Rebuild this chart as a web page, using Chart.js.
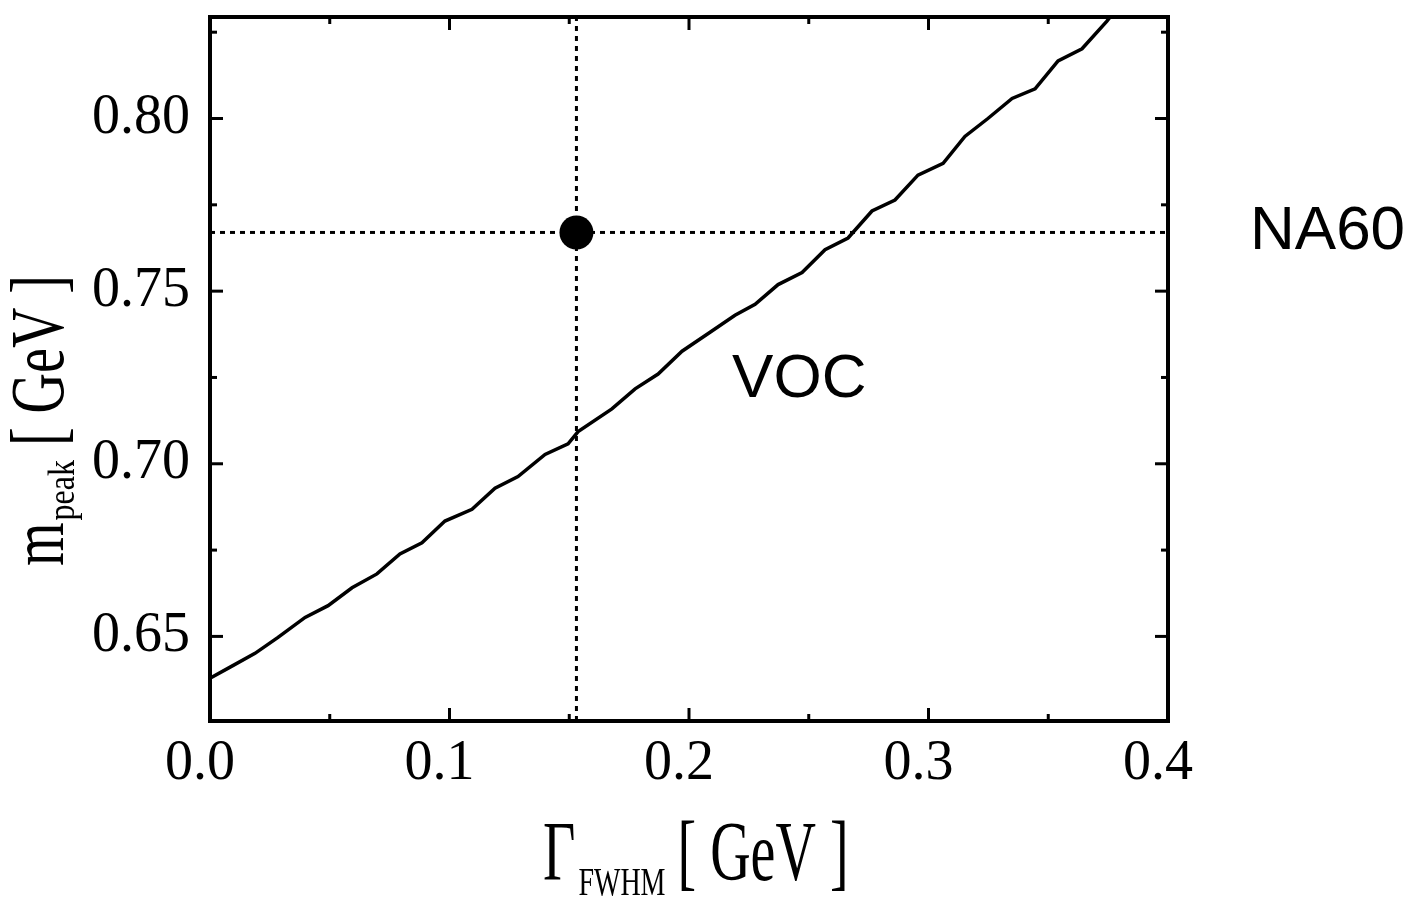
<!DOCTYPE html>
<html>
<head>
<meta charset="utf-8">
<script src="https://cdn.jsdelivr.net/npm/chart.js@4.4.1/dist/chart.umd.min.js"></script>
<style>
  html, body { margin: 0; padding: 0; background: #fff; }
  #wrap { width: 1420px; height: 900px; }
</style>
</head>
<body>
<div id="wrap"><canvas id="peakChart" width="1420" height="900"></canvas></div>
<script>
// VOC curve: peak position vs. full width at half maximum (GeV)
const vocWidth = [0.000, 0.0084, 0.0188, 0.0284, 0.0397, 0.0493, 0.0593, 0.0697, 0.0793, 0.0885,
  0.0981, 0.1094, 0.1190, 0.1286, 0.1399, 0.1495, 0.1537, 0.1678, 0.1775, 0.1871,
  0.1971, 0.2088, 0.2192, 0.2276, 0.2372, 0.2472, 0.2568, 0.2664, 0.2764, 0.2860,
  0.2956, 0.3061, 0.3152, 0.3248, 0.3349, 0.3445, 0.3541, 0.3641, 0.3745, 0.3765];
const vocMass = [0.6379, 0.6411, 0.6451, 0.6497, 0.6555, 0.6589, 0.6641, 0.6681, 0.6739, 0.6771,
  0.6834, 0.6868, 0.6929, 0.6963, 0.7027, 0.7058, 0.7093, 0.7159, 0.7217, 0.7260,
  0.7326, 0.7381, 0.7430, 0.7462, 0.7519, 0.7554, 0.7620, 0.7654, 0.7732, 0.7764,
  0.7836, 0.7870, 0.7948, 0.8000, 0.8058, 0.8086, 0.8167, 0.8202, 0.8282, 0.8300];

// NA60 point
const na60Width = 0.153;
const na60Mass = 0.767;

// axes
const xRange = [0.0, 0.4];
const yRange = [0.6255, 0.8294];
const xTickValues = [0.0, 0.1, 0.2, 0.3, 0.4];
const yTickValues = [0.65, 0.70, 0.75, 0.80];

const serif = '"Liberation Serif", "Times New Roman", serif';
const sans = '"Liberation Sans", Arial, sans-serif';

// text stretched along the glyph height, like the narrow serif titles
function tallText(ctx, text, x, y, size, stretch) {
  ctx.save();
  ctx.font = size + 'px ' + serif;
  ctx.translate(x, y);
  ctx.scale(1, stretch);
  ctx.fillText(text, 0, 0);
  ctx.restore();
  ctx.font = size + 'px ' + serif;
  return ctx.measureText(text).width;
}

// frame box with inward ticks on all four sides
const frameTicks = {
  id: 'frameTicks',
  afterDatasetsDraw(chart) {
    const { ctx, chartArea: a, scales: { x, y } } = chart;
    ctx.save();
    ctx.strokeStyle = '#000';
    ctx.lineWidth = 3;
    const seg = (x1, y1, x2, y2) => {
      ctx.beginPath(); ctx.moveTo(x1, y1); ctx.lineTo(x2, y2); ctx.stroke();
    };
    for (let i = 1; i < 8; i++) {
      const px = x.getPixelForValue(i * 0.05);
      const len = i % 2 === 0 ? 13 : 7;
      seg(px, a.bottom, px, a.bottom - len);
      seg(px, a.top, px, a.top + len);
    }
    for (let k = 26; k <= 33; k++) {
      const py = y.getPixelForValue(k * 0.025);
      const len = k % 2 === 0 ? 13 : 7;
      seg(a.left, py, a.left + len, py);
      seg(a.right, py, a.right - len, py);
    }
    ctx.lineWidth = 4;
    ctx.strokeRect(a.left, a.top, a.right - a.left, a.bottom - a.top);
    ctx.restore();
  },
  afterDraw(chart) {
    const { ctx, scales: { x, y } } = chart;
    ctx.save();
    ctx.fillStyle = '#000';
    ctx.textBaseline = 'alphabetic';

    // x title: Γ_FWHM [ GeV ]
    let cx = 543;
    cx += tallText(ctx, '\u0393', cx, 880, 56, 1.5) + 3;
    cx += tallText(ctx, 'FWHM', cx, 895, 28, 1.45) + 12;
    tallText(ctx, '[ GeV ]', cx, 880, 56, 1.5);

    // y title: m_peak [ GeV ], rotated
    ctx.save();
    ctx.translate(63, 566);
    ctx.rotate(-Math.PI / 2);
    let cy = 0;
    cy += tallText(ctx, 'm', cy, 0, 56, 1.35) + 2;
    cy += tallText(ctx, 'peak', cy, 11, 32, 1.2) + 14;
    tallText(ctx, '[ GeV ]', cy, 0, 56, 1.35);
    ctx.restore();

    // curve and point labels
    ctx.font = '62px ' + sans;
    ctx.fillText('VOC', x.getPixelForValue(0.218), y.getPixelForValue(0.7194));
    ctx.fillText('NA60', chart.chartArea.right + 82, y.getPixelForValue(na60Mass) + 17);
    ctx.restore();
  }
};

const ctx = document.getElementById('peakChart').getContext('2d');
new Chart(ctx, {
  type: 'scatter',
  data: {
    datasets: [
      {
        data: [{ x: xRange[0], y: na60Mass }, { x: xRange[1], y: na60Mass }],
        showLine: true, borderColor: '#000', borderWidth: 3, borderDash: [5, 5],
        pointRadius: 0
      },
      {
        data: [{ x: na60Width, y: yRange[0] }, { x: na60Width, y: yRange[1] }],
        showLine: true, borderColor: '#000', borderWidth: 3, borderDash: [5, 5],
        pointRadius: 0
      },
      {
        data: vocWidth.map((w, i) => ({ x: w, y: vocMass[i] })),
        showLine: true, borderColor: '#000', borderWidth: 3.5, tension: 0,
        pointRadius: 0
      },
      {
        data: [{ x: na60Width, y: na60Mass }],
        pointRadius: 17, pointBackgroundColor: '#000', pointBorderWidth: 0
      }
    ]
  },
  options: {
    responsive: false,
    animation: false,
    devicePixelRatio: 1,
    layout: { padding: { top: 13, right: 252, left: 0, bottom: 0 } },
    plugins: { legend: { display: false }, tooltip: { enabled: false } },
    scales: {
      x: {
        type: 'linear',
        min: xRange[0], max: xRange[1],
        afterBuildTicks: s => { s.ticks = xTickValues.map(v => ({ value: v })); },
        afterFit: s => { s.height = 179; s.paddingLeft = 0; s.paddingRight = 0; },
        grid: { display: false, drawTicks: false },
        border: { display: false },
        ticks: {
          color: '#000', padding: 10, labelOffset: -10, maxRotation: 0,
          font: { family: serif, size: 56 },
          callback: v => v.toFixed(1)
        }
      },
      y: {
        type: 'linear',
        min: yRange[0], max: yRange[1],
        afterBuildTicks: s => { s.ticks = yTickValues.map(v => ({ value: v })); },
        afterFit: s => { s.width = 210; s.paddingTop = 0; s.paddingBottom = 0; },
        grid: { display: false, drawTicks: false },
        border: { display: false },
        ticks: {
          color: '#000', padding: 20,
          font: { family: serif, size: 56 },
          callback: v => v.toFixed(2)
        }
      }
    }
  },
  plugins: [frameTicks]
});
</script>
</body>
</html>
